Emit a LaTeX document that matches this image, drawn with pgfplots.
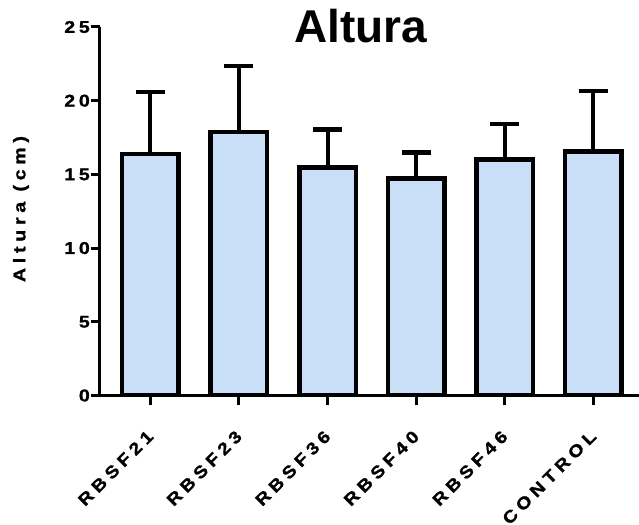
\documentclass[border=0pt]{standalone}
\usepackage{fontspec}
\setmainfont{Liberation Sans}
\usepackage{pgfplots}
\pgfplotsset{compat=1.18}
\definecolor{barfill}{RGB}{201,222,247}
\newcommand\lblfont{\fontsize{17bp}{17bp}\selectfont\bfseries\addfontfeatures{LetterSpace=22,FakeStretch=1.15,FakeBold=1.2}}
\newcommand\ylblfont{\fontsize{17bp}{17bp}\selectfont\bfseries\addfontfeatures{LetterSpace=28,FakeStretch=1.15,FakeBold=1.2}}
\newcommand\xlblfont{\fontsize{17bp}{17bp}\selectfont\bfseries\addfontfeatures{LetterSpace=27,FakeStretch=1.15,FakeBold=1.2}}
\begin{document}
\begin{tikzpicture}
\begin{axis}[
  name=ax,
  width=539bp, height=368.5bp, scale only axis,
  xmin=-0.569, xmax=5.516, ymin=0, ymax=25,
  axis x line=bottom, axis y line=left,
  axis line style={line width=3bp, -},
  ytick={0,5,10,15,20,25},
  xtick={0,1,2,3,4,5},
  xticklabels={RBSF21,RBSF23,RBSF36,RBSF40,RBSF46,CONTROL},
  tick style={line width=3bp, black},
  major tick length=9bp,
  tick align=outside,
  /pgf/number format/assume math mode=true,
  yticklabel style={font=\lblfont, inner sep=0pt, xshift=-1bp},
  xticklabel style={xshift=0bp, yshift=-29bp, rotate=45, anchor=east, font=\xlblfont, inner sep=0pt},
  title={Altura},
  title style={at={(rel axis cs:0.484,0.943)}, anchor=base, font=\fontsize{46bp}{46bp}\selectfont\bfseries},
  ylabel={Altura (cm)},
  ylabel style={at={(rel axis cs:-0.1466,0.506)}, anchor=center, font=\ylblfont},
]
\addplot[ybar, bar width=56.5bp, fill=barfill, draw=black, line width=4.5bp, line join=miter,
  error bars/.cd, y dir=plus, y explicit,
  error bar style={line width=4bp, black},
  error mark options={rotate=90, mark size=14.5bp, line width=4.5bp, black}]
  coordinates {
  (0,16.40) +- (0,4.20)
  (1,17.86) +- (0,4.50)
  (2,15.48) +- (0,2.56)
  (3,14.73) +- (0,1.77)
  (4,16.00) +- (0,2.43)
  (5,16.54) +- (0,4.11)
  };
\end{axis}
\pgfresetboundingbox
\path[use as bounding box] ([xshift=-100bp,yshift=-129.5bp]ax.south west) rectangle ([yshift=27bp]ax.north east);
\end{tikzpicture}
\end{document}
